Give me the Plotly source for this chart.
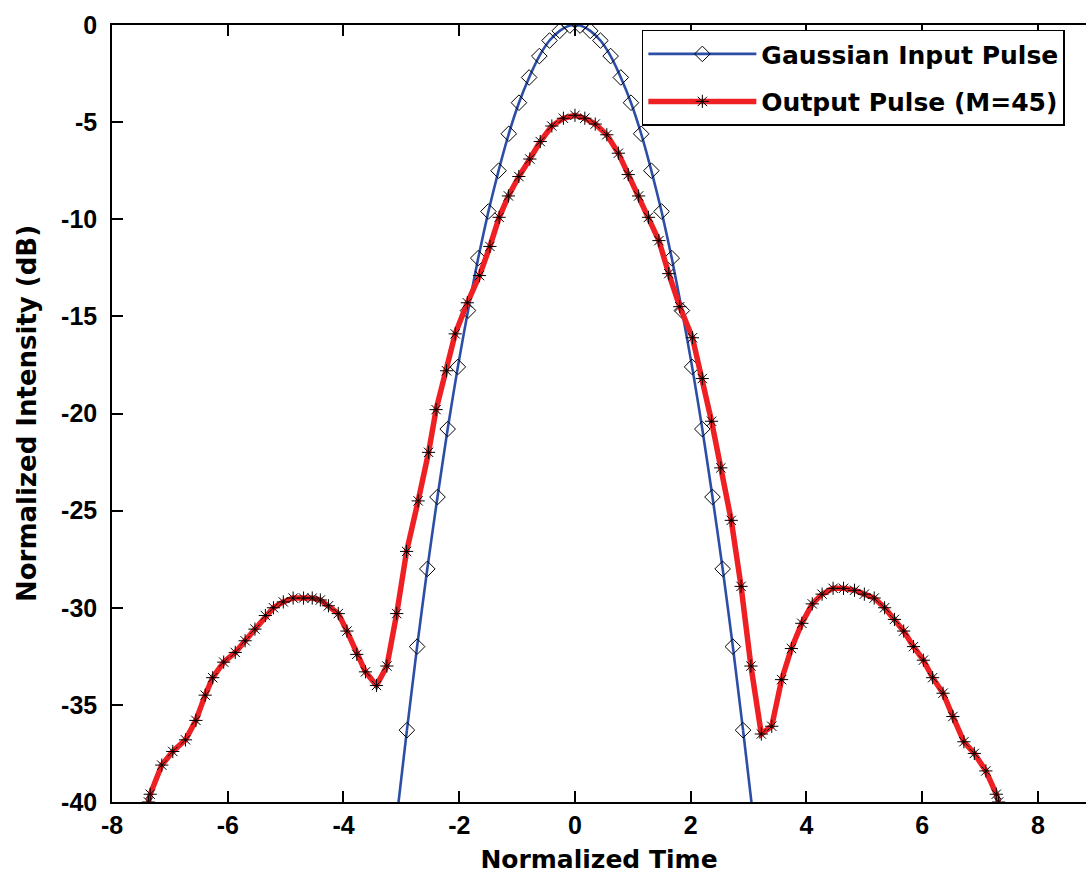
import plotly.graph_objects as go

# ---- data ----
gauss_t = [-2.904, -2.728, -2.552, -2.376, -2.200, -2.024, -1.848, -1.672, -1.496, -1.320,
           -1.144, -0.968, -0.792, -0.616, -0.440, -0.264, -0.088,
           0.088, 0.264, 0.440, 0.616, 0.792, 0.968, 1.144, 1.320, 1.496,
           1.672, 1.848, 2.024, 2.200, 2.376, 2.552, 2.728, 2.904]
gauss_db = [-36.3, -32.0, -28.0, -24.3, -20.8, -17.6, -14.7, -12.0, -9.6, -7.5,
            -5.6, -4.0, -2.7, -1.6, -0.8, -0.3, -0.03,
            -0.03, -0.3, -0.8, -1.6, -2.7, -4.0, -5.6, -7.5, -9.6,
            -12.0, -14.7, -17.6, -20.8, -24.3, -28.0, -32.0, -36.3]
# line continuation of the input pulse beyond the last markers
gauss_tail_t = [-3.08, -2.904, 2.904, 3.08]
gauss_tail_db = [-40.8, -36.3, -36.3, -40.8]

out_t = [-7.37, -7.34, -7.14, -6.95, -6.73, -6.55, -6.39, -6.26, -6.07, -5.87, -5.70,
         -5.53, -5.35, -5.21, -5.04, -4.87, -4.69, -4.54, -4.40, -4.26, -4.09,
         -3.94, -3.77, -3.62, -3.43, -3.25, -3.08, -2.91, -2.71, -2.53, -2.40,
         -2.22, -2.07, -1.86, -1.65, -1.47, -1.31, -1.15, -0.97, -0.78, -0.60,
         -0.40, -0.20, 0.00, 0.17, 0.35, 0.55, 0.75, 0.92, 1.10, 1.27,
         1.45, 1.62, 1.81, 2.03, 2.20, 2.36, 2.52, 2.70, 2.87, 3.04,
         3.22, 3.40, 3.57, 3.74, 3.92, 4.10, 4.27, 4.46, 4.64, 4.83,
         5.00, 5.17, 5.35, 5.52, 5.68, 5.85, 6.02, 6.18, 6.36, 6.53,
         6.72, 6.90, 7.10, 7.28, 7.32]
out_db = [-40.0, -39.6, -38.1, -37.4, -36.8, -35.8, -34.5, -33.6, -32.8, -32.3, -31.7,
          -31.1, -30.4, -30.0, -29.7, -29.5, -29.5, -29.5, -29.6, -29.9, -30.3,
          -31.2, -32.4, -33.3, -34.0, -33.0, -30.3, -27.1, -24.5, -22.0, -19.8,
          -17.8, -15.9, -14.3, -12.9, -11.4, -9.9, -8.8, -7.8, -6.9, -6.0,
          -5.2, -4.8, -4.65, -4.8, -5.1, -5.65, -6.6, -7.7, -8.8, -9.9,
          -11.1, -12.8, -14.5, -16.1, -18.2, -20.4, -22.8, -25.5, -28.9, -33.0,
          -36.5, -36.1, -33.7, -32.1, -30.8, -29.8, -29.3, -29.0, -29.0, -29.1,
          -29.3, -29.5, -30.0, -30.6, -31.2, -32.0, -32.7, -33.6, -34.4, -35.6,
          -36.9, -37.5, -38.4, -39.6, -40.0]

x_ticks = [-8, -6, -4, -2, 0, 2, 4, 6, 8]
y_ticks = [0, -5, -10, -15, -20, -25, -30, -35, -40]

BLUE = "#2d4ea6"
RED = "#ee2024"
TXT = "DejaVu Sans"
NUM = "Liberation Sans, Arial"

fig = go.Figure()
fig.add_trace(go.Scatter(x=gauss_tail_t[:2], y=gauss_tail_db[:2], mode="lines",
                         line=dict(color=BLUE, width=2.6), showlegend=False, hoverinfo="skip"))
fig.add_trace(go.Scatter(x=gauss_tail_t[2:], y=gauss_tail_db[2:], mode="lines",
                         line=dict(color=BLUE, width=2.6), showlegend=False, hoverinfo="skip"))
fig.add_trace(go.Scatter(
    x=gauss_t, y=gauss_db, mode="lines+markers", name="Gaussian Input Pulse",
    legendgroup="a",
    line=dict(color=BLUE, width=2.6, shape="spline", smoothing=0.6),
    marker=dict(symbol="diamond-open", size=12, color="black", line=dict(color="black", width=1)),
))
fig.add_trace(go.Scatter(
    x=out_t, y=out_db, mode="lines+markers", name="Output Pulse (M=45)",
    legendgroup="b",
    line=dict(color=RED, width=5.5),
    marker=dict(symbol="asterisk", size=11, color="black", line=dict(color="black", width=1)),
))

fig.update_layout(
    width=1086, height=874,
    margin=dict(l=112, r=0, t=25, b=72, autoexpand=False),
    paper_bgcolor="white", plot_bgcolor="white",
    showlegend=True,
    legend=dict(
        x=0.544, y=0.994, xanchor="left", yanchor="top",
        bgcolor="white", bordercolor="black", borderwidth=1.5,
        font=dict(family=TXT, size=25, color="black", weight="bold"),
        tracegroupgap=12, traceorder="grouped",
        itemwidth=108,
    ),
    xaxis=dict(
        range=[-8, 8.83], tickmode="array", tickvals=x_ticks, ticktext=[str(v) for v in x_ticks],
        ticks="inside", ticklen=11, tickwidth=1.5, tickcolor="black",
        showline=True, linecolor="black", linewidth=1.5, mirror="ticks",
        showgrid=False, zeroline=False,
        tickfont=dict(family=NUM, size=25, color="black", weight="bold"),
        ticklabelstandoff=0,
        title=dict(text="Normalized Time", font=dict(family=TXT, size=25, color="black", weight="bold"), standoff=14),
    ),
    yaxis=dict(
        range=[-40, 0], tickmode="array", tickvals=y_ticks, ticktext=[str(v) for v in y_ticks],
        ticks="inside", ticklen=11, tickwidth=1.5, tickcolor="black",
        showline=True, linecolor="black", linewidth=1.5, mirror=False,
        showgrid=False, zeroline=False,
        tickfont=dict(family=NUM, size=25, color="black", weight="bold"),
        ticklabelstandoff=8,
        title=dict(text="Normalized Intensity (dB)", font=dict(family=TXT, size=26, color="black", weight="bold"), standoff=17),
    ),
)

fig.write_html("out.html")
